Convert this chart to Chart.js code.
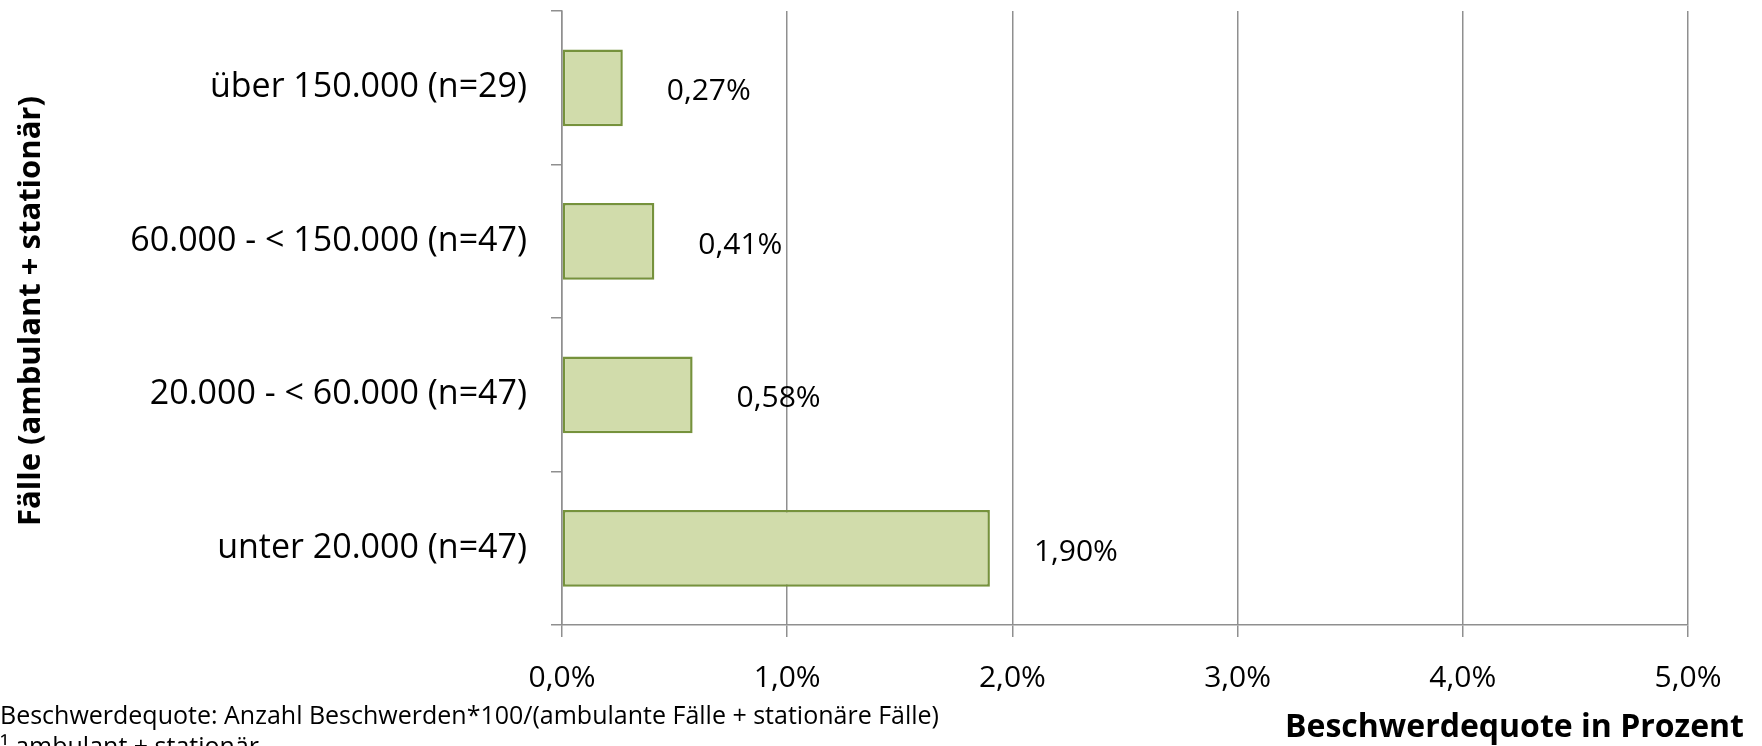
<!DOCTYPE html>
<html>
<head>
<meta charset="utf-8">
<script src="https://cdn.jsdelivr.net/npm/chart.js@4/dist/chart.umd.min.js"></script>
<style>
  html, body { margin: 0; padding: 0; background: #fff; }
  canvas { display: block; }
</style>
</head>
<body>
<canvas id="chart" width="1762" height="746"></canvas>
<script>
// Daten
const categories = [
  "über 150.000 (n=29)",
  "60.000 - < 150.000 (n=47)",
  "20.000 - < 60.000 (n=47)",
  "unter 20.000 (n=47)"
];
const quoteValues = [0.27, 0.41, 0.58, 1.90];
const xTicks = [0, 1, 2, 3, 4, 5];

const yTitle = "Fälle (ambulant + stationär)";
const xTitle = "Beschwerdequote in Prozent";
const footnotes = [
  "Beschwerdequote: Anzahl Beschwerden*100/(ambulante Fälle + stationäre Fälle)",
  "¹ ambulant + stationär"
];

const FONT = "'Open Sans', 'DejaVu Sans', sans-serif";
const axisGray = "#8f8f8f";

function fmt(v, digits) {
  return v.toFixed(digits).replace('.', ',') + '%';
}

// Beschriftungen an den Balken + Achsentitel + Fußnote
const extraText = {
  id: 'extraText',
  afterDatasetsDraw(chart) {
    const ctx = chart.ctx;
    const meta = chart.getDatasetMeta(0);
    ctx.save();
    ctx.fillStyle = '#000';
    ctx.font = "30px " + FONT;
    ctx.textAlign = 'left';
    ctx.textBaseline = 'middle';
    meta.data.forEach((bar, i) => {
      ctx.fillText(fmt(quoteValues[i], 2), bar.x + 44, bar.y + 4);
    });
    ctx.restore();
  },
  afterDraw(chart) {
    const ctx = chart.ctx;
    ctx.save();
    ctx.fillStyle = '#000';

    // y-Achsentitel
    ctx.font = "bold 31px " + FONT;
    ctx.translate(31, 311);
    ctx.rotate(-Math.PI / 2);
    ctx.textAlign = 'center';
    ctx.textBaseline = 'middle';
    ctx.fillText(yTitle, 0, 0);
    ctx.setTransform(1, 0, 0, 1, 0, 0);

    // x-Achsentitel
    ctx.font = "bold 32px " + FONT;
    ctx.textAlign = 'right';
    ctx.fillText(xTitle, 1744, 728);

    // Fußnote
    ctx.font = "25px " + FONT;
    ctx.textAlign = 'left';
    ctx.fillText(footnotes[0], 0, 717);
    ctx.fillText(footnotes[1], 0, 748);
    ctx.restore();
  }
};

new Chart(document.getElementById('chart').getContext('2d'), {
  type: 'bar',
  data: {
    labels: categories,
    datasets: [{
      data: quoteValues,
      backgroundColor: '#d1dcab',
      borderColor: '#76923c',
      borderWidth: 2.5,
      borderSkipped: false,
      barPercentage: 0.5,
      categoryPercentage: 1.0
    }]
  },
  options: {
    indexAxis: 'y',
    responsive: false,
    animation: false,
    layout: { padding: { top: 11, right: 74, left: 0, bottom: 0 } },
    plugins: {
      legend: { display: false },
      tooltip: { enabled: false }
    },
    scales: {
      x: {
        min: 0,
        max: 5,
        afterBuildTicks(scale) {
          scale.ticks = xTicks.map(v => ({ value: v }));
        },
        afterFit(scale) {
          scale.height = 121;
          scale.paddingLeft = 0;
          scale.paddingRight = 0;
        },
        grid: {
          color: axisGray,
          lineWidth: 1.5,
          tickLength: 12
        },
        border: { color: axisGray, width: 1.5 },
        ticks: {
          color: '#000',
          padding: 23,
          font: { family: FONT, size: 30 },
          callback: (v) => fmt(v, 1)
        }
      },
      y: {
        afterFit(scale) {
          scale.width = 562;
          scale.paddingTop = 0;
          scale.paddingBottom = 0;
        },
        grid: {
          offset: true,
          drawOnChartArea: false,
          color: axisGray,
          lineWidth: 1.5,
          tickLength: 11
        },
        border: { color: axisGray, width: 1.5 },
        ticks: {
          color: '#000',
          padding: 24,
          font: { family: FONT, size: 34 }
        }
      }
    }
  },
  plugins: [extraText]
});
</script>
</body>
</html>
